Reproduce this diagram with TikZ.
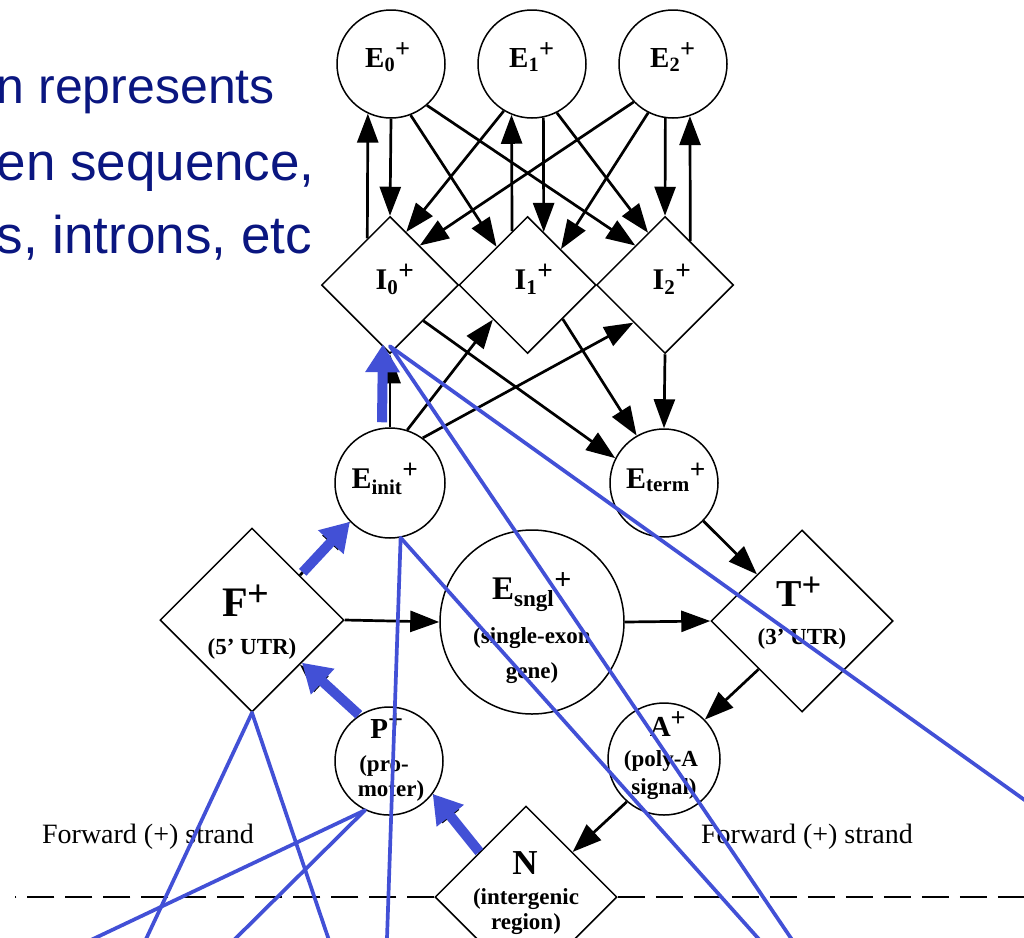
\documentclass[tikz,border=0pt]{standalone}
\usepackage{fontspec}
\setmainfont{Liberation Serif}
\newfontfamily\slidefont{Liberation Sans}
\usetikzlibrary{shapes.geometric,arrows.meta,calc}

\definecolor{slidenavy}{RGB}{10,22,128}
\definecolor{markblue}{RGB}{66,80,214}

\newcommand\fs[1]{\fontsize{#1}{#1}\selectfont}
\newcommand\plussign{\textsuperscript{\scalebox{1.3}{+}}}

\tikzset{
  state/.style={circle, draw, line width=1.5pt, inner sep=0pt},
  gate/.style={diamond, draw, line width=1.5pt, inner sep=0pt, aspect=1},
  lbl/.style={inner sep=0pt, anchor=base, font=\bfseries\fs{#1}},
  flow/.style={line width=2.7pt, -{Triangle[length=29pt,width=21pt]}},
  hiarrow/.style={markblue, line width=10pt, -{Triangle[length=28pt,width=33pt]}},
  hiline/.style={markblue, line width=3.7pt, line cap=round},
  strand/.style={line width=2.8pt, dash pattern=on 27pt off 11pt},
  slidetext/.style={anchor=base east, inner sep=0pt, text=slidenavy, font=\slidefont\fs{#1}},
  strandtext/.style={anchor=base, inner sep=0pt, font=\fs{28}},
}

\begin{document}
\begin{tikzpicture}[x=1pt, y=-1pt]
\useasboundingbox (0,0) rectangle (1024,937);
\clip (0,0) rectangle (1024,937);

% slide text running in from the left
\node[slidetext=50] (s1) at (275,103) {n represents};
\node[slidetext=53] (s2) at (315,180) {en sequence,};
\node[slidetext=53] (s3) at (312,253) {s, introns, etc};

% exon states
\node[state, minimum size=108pt] (E0) at (391,64) {};
\node[state, minimum size=108pt] (E1) at (532,64) {};
\node[state, minimum size=108pt] (E2) at (673,64) {};
% intron states
\node[gate, minimum size=137pt] (I0) at (390,285) {};
\node[gate, minimum size=137pt] (I1) at (527.5,285) {};
\node[gate, minimum size=137pt] (I2) at (665,285) {};
% initial / terminal exons
\node[state, minimum size=110pt] (Einit) at (390,483) {};
\node[state, minimum size=108pt] (Eterm) at (664,483) {};
% middle row
\node[gate, minimum size=184pt] (F) at (252,620) {};
\node[state, minimum size=184pt] (Esngl) at (532,622) {};
\node[gate, minimum size=182pt] (T) at (802,621) {};
% promoter, poly-A, intergenic
\node[state, minimum size=108pt] (P) at (389,761) {};
\node[state, minimum size=112pt] (A) at (664,759) {};
\node[gate, minimum size=182pt] (N) at (526,897) {};

% state labels
\node[lbl=29] (E0t) at (388,67) {E\textsubscript{0}\plussign};
\node[lbl=29] (E1t) at (532,67) {E\textsubscript{1}\plussign};
\node[lbl=29] (E2t) at (673,67) {E\textsubscript{2}\plussign};
\node[lbl=30] (I0t) at (395,289) {I\textsubscript{0}\plussign};
\node[lbl=30] (I1t) at (534,289) {I\textsubscript{1}\plussign};
\node[lbl=30] (I2t) at (672,289) {I\textsubscript{2}\plussign};
\node[lbl=30] (Einitt) at (385,488) {E\textsubscript{init}\plussign};
\node[lbl=30] (Etermt) at (666,488) {E\textsubscript{term}\plussign};
\node[lbl=33] (Esnglt1) at (532,599) {E\textsubscript{sngl}\plussign};
\node[lbl=23] (Esnglt2) at (532,643) {(single-exon};
\node[lbl=23] (Esnglt3) at (532,678) {gene)};
\node[lbl=42] (Ft1) at (246,616) {F\plussign};
\node[lbl=23] (Ft2) at (252,654) {(5' UTR)};
\node[lbl=38] (Tt1) at (799,606) {T\plussign};
\node[lbl=23] (Tt2) at (802,644) {(3' UTR)};
\node[lbl=29] (Pt1) at (387,738) {P\plussign};
\node[lbl=23] (Pt2) at (384,771) {(pro-};
\node[lbl=23] (Pt3) at (391,796) {moter)};
\node[lbl=29] (At1) at (668,736) {A\plussign};
\node[lbl=23] (At2) at (661,766) {(poly-A};
\node[lbl=23] (At3) at (664,794) {signal)};
\node[lbl=35] (Nt1) at (525,874) {N};
\node[lbl=23] (Nt2) at (526,904) {(intergenic};
\node[lbl=23] (Nt3) at (526,929) {region)};

% strand line and labels
\draw[strand] (N.west) -- (15,897);
\draw[strand] (N.east) -- (1024,897);
\node[strandtext] (fwdL) at (148,843) {Forward (+) strand};
\node[strandtext] (fwdR) at (807,843) {Forward (+) strand};

% exon <-> intron transitions
\draw[flow] (I0.116) -- (E0.-115);
\draw[flow] (E0.-90) -- (I0.north);
\draw[flow] (E0.-69) -- (I1.129);
\draw[flow] (E0.-49) -- (I2.127);
\draw[flow] (E1.-121) -- (I0.73);
\draw[flow] (I1.106) -- (E1.-112);
\draw[flow] (E1.-78) -- (I1.73);
\draw[flow] (E1.-63) -- (I2.108);
\draw[flow] (E2.-136) -- (I0.53);
\draw[flow] (E2.-117) -- (I1.47);
\draw[flow] (E2.-98) -- (I2.north);
\draw[flow] (I2.60) -- (E2.-72);
% initial / terminal exon transitions
\draw[flow] (I0.-47) -- (Eterm.153);
\draw[flow] (Einit.72) -- (I1.-135);
\draw[flow] (Einit.54) -- (I2.-130);
\draw[flow] (I1.-44) -- (Eterm.120);
\draw[flow] (I2.south) -- (Eterm.north);
\draw[flow] (Einit.north) -- (I0.south);
\draw[flow] (Eterm.-44) -- (T.134);
% gene-level transitions
\draw[flow] (F.east) -- (Esngl.west);
\draw[flow] (Esngl.east) -- (T.west);
\draw[flow] (T.-132) -- (A.44);
\draw[flow] (A.-131) -- (N.44);
\draw[flow] (F.43) -- (Einit.-136);
\draw[flow] (P.126) -- (F.-43);
\draw[flow] (N.136) -- (P.-37);

% highlighted path N -> P -> F -> Einit -> I0
\draw[hiarrow] (N.136) -- (P.-37);
\draw[hiarrow] ([xshift=2pt,yshift=2pt]P.126) -- ([xshift=2pt,yshift=2pt]F.-43);
\draw[hiarrow, shorten <=4pt] (F.43) -- (Einit.-136);
\draw[hiarrow] ([xshift=-8pt,yshift=5pt]Einit.north) -- ([xshift=-7pt,yshift=10pt]I0.south);

% pointer lines
\coordinate (La) at (1040,811);
\coordinate (Lb) at (799,950);
\coordinate (Lc) at (768.6,950);
\coordinate (Ld) at (386.6,950);
\coordinate (Le) at (140.9,950);
\coordinate (Lf) at (332.3,950);
\coordinate (Lg) at (69.8,950);
\coordinate (Lh) at (223.9,950);
\draw[hiline] ([yshift=8pt]I0.south) -- (La);
\draw[hiline] ([yshift=8pt]I0.south) -- (Lb);
\draw[hiline] (Einit.-79) -- (Lc);
\draw[hiline] (Einit.-79) -- (Ld);
\draw[hiline] (F.south) -- (Le);
\draw[hiline] (F.south) -- (Lf);
\draw[hiline] (P.-116) -- (Lg);
\draw[hiline] (P.-116) -- (Lh);
\end{tikzpicture}
\end{document}
